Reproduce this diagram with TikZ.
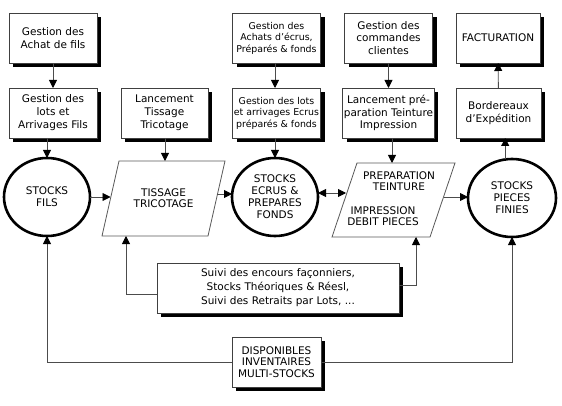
\documentclass[tikz,border=0pt]{standalone}
\usepackage{fontspec}
\setmainfont{DejaVu Sans}
\usetikzlibrary{shapes.geometric,shadows,arrows.meta,calc}
\begin{document}
\begin{tikzpicture}[x=1pt,y=-1pt,
  font=\fontsize{10.5}{12.5}\selectfont,
  box/.style={draw=black!75, line width=0.8pt, fill=white, align=center,
    inner sep=1pt, outer sep=0pt, minimum width=88pt, minimum height=50pt,
    drop shadow={shadow xshift=4pt, shadow yshift=-4pt, fill=black, opacity=1}},
  stock/.style={ellipse, draw=black, line width=2.6pt, fill=white, align=center,
    inner sep=0pt, outer sep=0pt, minimum width=86pt, minimum height=78pt,
    font=\fontsize{10.5}{12}\selectfont},
  paraline/.style={draw=black!65, line width=0.8pt, fill=white},
  lbl/.style={align=center, inner sep=0pt, font=\fontsize{10.5}{11.5}\selectfont},
  arr/.style={draw=black!70, line width=0.9pt, -{Triangle[length=8pt,width=8pt,color=black]}},
  darr/.style={draw=black!70, line width=0.9pt, {Triangle[length=8pt,width=8pt,color=black]}-{Triangle[length=8pt,width=8pt,color=black]}},
  small/.style={font=\fontsize{9.4}{11.5}\selectfont}]
\fill[white] (0,0) rectangle (562,406);
\useasboundingbox (0,0) rectangle (562,406);

% top row
\node[box] (b1) at (53,38) {Gestion des\\Achat de fils};
\node[box, small] (b4) at (276.5,38) {Gestion des\\Achats d'écrus,\\Préparés \& fonds};
\node[box] (b6) at (388.5,38) {Gestion des\\commandes\\clientes};
\node[box, minimum width=84pt] (b8) at (498,38) {FACTURATION};

% second row
\node[box, font=\fontsize{10.5}{13}\selectfont] (b2) at (53,113) {Gestion des\\lots et\\Arrivages Fils};
\node[box, minimum width=87pt, font=\fontsize{10.5}{13}\selectfont] (b3) at (164.5,113) {Lancement\\Tissage\\Tricotage};
\node[box, small] (b5) at (276.5,113) {Gestion des lots\\et arrivages Ecrus\\préparés \& fonds};
\node[box] (b7) at (388.5,113) {Lancement pré-\\paration Teinture\\Impression};
\node[box, minimum width=85pt] (b9) at (498.5,113) {Bordereaux\\d'Expédition};

% stocks
\node[stock] (fils) at (47,197) {STOCKS\\FILS};
\node[stock] (ecrus) at (275,197) {STOCKS\\ECRUS \&\\PREPARES\\FONDS};
\node[stock, minimum width=88pt] (pieces) at (512,198) {STOCKS\\PIECES\\FINIES};

% parallelograms
\draw[paraline] (119,161) -- (225,161) -- (208,236) -- (102,236) -- cycle;
\node[lbl] (tiss) at (163.5,198) {TISSAGE\\TRICOTAGE};
\coordinate (tissN) at (165,161);
\coordinate (tissS) at (126,236);
\coordinate (tissW) at (110.5,197);
\coordinate (tissE) at (217,194);

\draw[paraline] (357,163) -- (455,163) -- (430,237) -- (332,237) -- cycle;
\node[lbl] (prepA) at (399,181) {PREPARATION\\TEINTURE};
\node[lbl] (prepB) at (383,216) {IMPRESSION\\DEBIT PIECES};
\coordinate (prepN) at (392,163);
\coordinate (prepS) at (416,237);
\coordinate (prepW) at (346,193);
\coordinate (prepE) at (444,197);

% bottom boxes
\node[box, minimum width=242pt, font=\fontsize{10.5}{14}\selectfont] (suivi) at (278,288) {Suivi des encours façonniers,\\Stocks Théoriques \& Réesl,\\Suivi des Retraits par Lots, ...};
\node[box, minimum width=89pt, font=\fontsize{10.5}{11.5}\selectfont] (dispo) at (276.5,362) {DISPONIBLES\\INVENTAIRES\\MULTI-STOCKS};

% vertical arrows
\draw[arr] (b1) -- (b2);
\draw[arr] (b2.south -| fils.north) -- (fils.north);
\draw[arr] (b3.south -| tissN) -- (tissN);
\draw[arr] (b4.south -| ecrus.north) -- (b5.north -| ecrus.north);
\draw[arr] (b5.south -| ecrus.north) -- (ecrus.north);
\draw[arr] (b6) -- (b7);
\draw[arr] (b7.south -| prepN) -- (prepN);
\draw[arr] (b9) -- (b8);
\draw[arr] (pieces.100) -- (pieces.100 |- b9.south);

% horizontal arrows
\draw[arr] (fils.east) -- (tissW);
\draw[arr] (tissE) -- (tissE -| ecrus.west);
\draw[darr] (ecrus.east |- prepW) -- (prepW);
\draw[arr] (prepE) -- (prepE -| pieces.west);

% feedback lines
\draw[arr] ([yshift=-6pt]suivi.west) -| (tissS);
\draw[arr] ([yshift=3pt]suivi.east) -| (prepS);
\draw[arr] (dispo.west) -| (fils.south);
\draw[arr] (dispo.east) -| (pieces.south);
\end{tikzpicture}
\end{document}
